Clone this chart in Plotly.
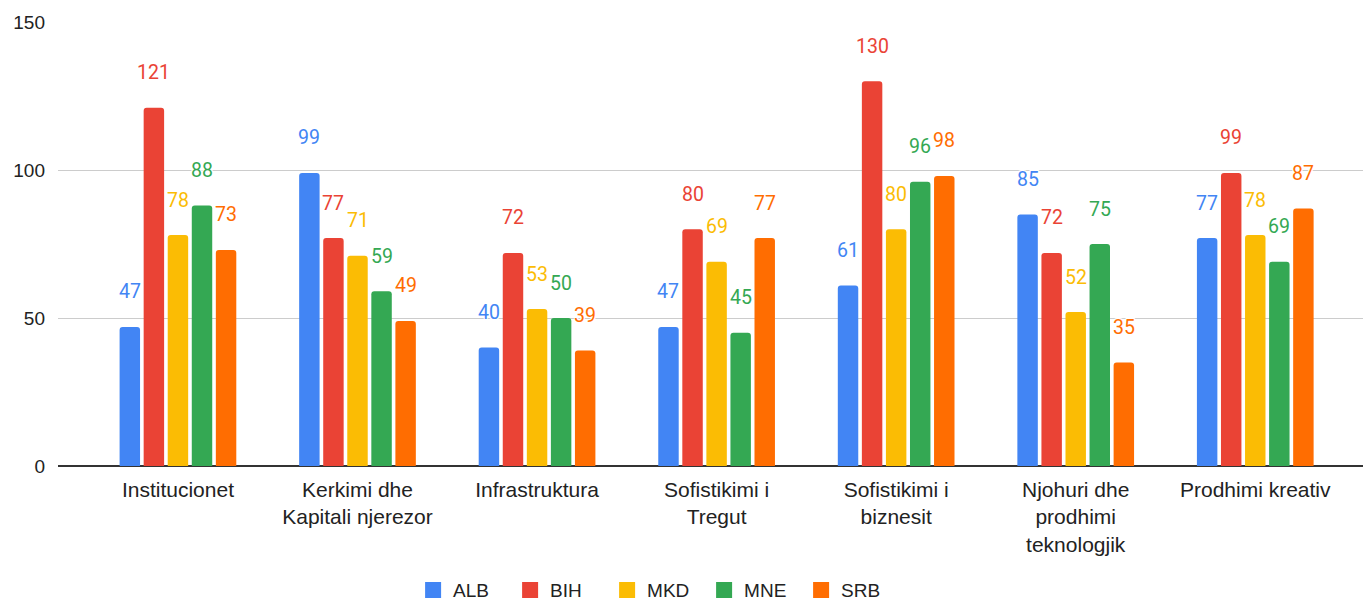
import plotly.graph_objects as go

# Pillar scores per country
categories = [
    "Institucionet",
    "Kerkimi dhe<br>Kapitali njerezor",
    "Infrastruktura",
    "Sofistikimi i<br>Tregut",
    "Sofistikimi i<br>biznesit",
    "Njohuri dhe<br>prodhimi<br>teknologjik",
    "Prodhimi kreativ",
]
countries = ["ALB", "BIH", "MKD", "MNE", "SRB"]
alb = [47, 99, 40, 47, 61, 85, 77]
bih = [121, 77, 72, 80, 130, 72, 99]
mkd = [78, 71, 53, 69, 80, 52, 78]
mne = [88, 59, 50, 45, 96, 75, 69]
srb = [73, 49, 39, 77, 98, 35, 87]
series = [alb, bih, mkd, mne, srb]
colors = ["#4285F4", "#EA4335", "#FBBC04", "#34A853", "#FF6D01"]
y_ticks = [0, 50, 100, 150]

W, H = 1363, 601
M_L, M_R, M_T, M_B = 58, 0, 22, 135
X_RANGE = [-0.668, 6.60]
BARGAP = 0.33
AXIS_FONT = "Liberation Sans, Arial, sans-serif"
LABEL_FONT = "Roboto, Arial, sans-serif"

fig = go.Figure()

for name, vals, col in zip(countries, series, colors):
    fig.add_trace(go.Bar(
        x=categories, y=vals, name=name,
        marker=dict(color=col, cornerradius=3, line=dict(width=0)),
        showlegend=False, hoverinfo="x+y+name",
    ))
    # legend entry with a larger square swatch
    fig.add_trace(go.Scatter(
        x=[None], y=[None], mode="markers", name=name,
        marker=dict(symbol="square", size=16, color=col),
        hoverinfo="skip",
    ))

# value labels above each bar, shifted onto their bar within the group
cat_px = (W - M_L - M_R) / (X_RANGE[1] - X_RANGE[0])
pitch = cat_px * (1 - BARGAP) / len(countries)
annotations = []
for i, (vals, col) in enumerate(zip(series, colors)):
    for cat, v in zip(categories, vals):
        annotations.append(dict(
            x=cat, y=v, text=str(v), showarrow=False,
            xshift=(i - (len(countries) - 1) / 2) * pitch, yshift=35,
            yanchor="middle", xanchor="center",
            font=dict(family=LABEL_FONT, size=19.5, color=col,
                      shadow="-1px -1px 0 #fff, 1px -1px 0 #fff, -1px 1px 0 #fff, 1px 1px 0 #fff"),
        ))

fig.update_layout(
    width=W, height=H,
    margin=dict(l=M_L, r=M_R, t=M_T, b=M_B),
    paper_bgcolor="white", plot_bgcolor="white",
    barmode="group", bargap=BARGAP, bargroupgap=0.15,
    font=dict(family=AXIS_FONT, color="#222222"),
    annotations=annotations,
    legend=dict(
        orientation="h", xref="container", yref="container",
        x=0.481, xanchor="center", y=0.018, yanchor="middle",
        font=dict(size=19, color="#222222"),
        entrywidth=52, itemclick=False,
    ),
    xaxis=dict(
        range=X_RANGE, showgrid=False, zeroline=False,
        showline=False, ticks="",
        tickfont=dict(size=21, color="#222222"),
        ticklabelstandoff=9,
    ),
    yaxis=dict(
        range=[0, 150], tickvals=y_ticks,
        showgrid=True, gridcolor="#cccccc", gridwidth=1,
        zeroline=True, zerolinecolor="#333333", zerolinewidth=1.5,
        showline=False, ticks="",
        tickfont=dict(size=19, color="#222222"),
        ticklabelstandoff=12,
    ),
)

fig.write_html("out.html")
